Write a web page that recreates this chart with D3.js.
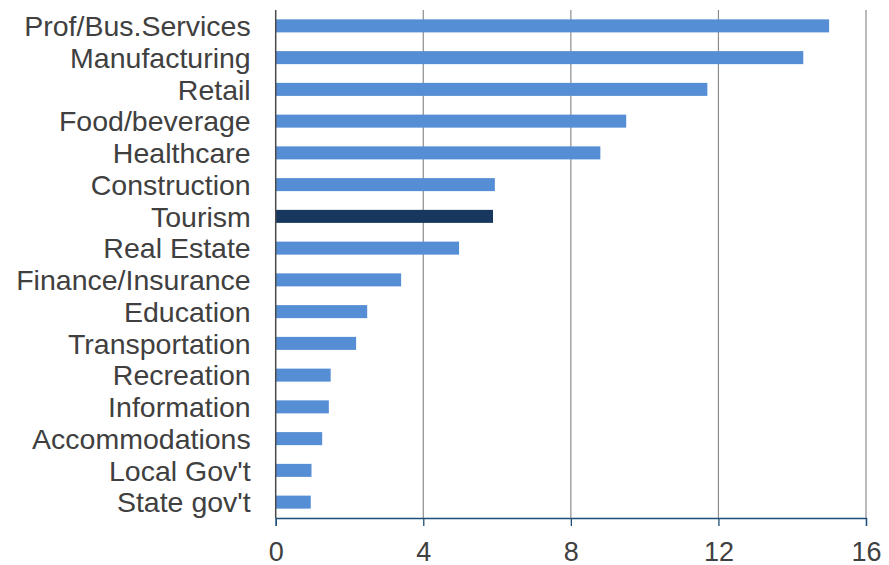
<!DOCTYPE html>
<html>
<head>
<meta charset="utf-8">
<script src="https://cdn.jsdelivr.net/npm/d3@7"></script>
<style>
  html, body { margin: 0; padding: 0; background: #fff; }
  svg { display: block; }
</style>
</head>
<body>
<svg id="chart" width="889" height="565"></svg>
<script>
// Industry categories, top to bottom
const categories = [
  "Prof/Bus.Services", "Manufacturing", "Retail", "Food/beverage", "Healthcare",
  "Construction", "Tourism", "Real Estate", "Finance/Insurance", "Education",
  "Transportation", "Recreation", "Information", "Accommodations",
  "Local Gov't", "State gov't"
];
// Value per category
const values = [
  15.0, 14.3, 11.7, 9.5, 8.8,
  5.94, 5.89, 4.97, 3.4, 2.48,
  2.18, 1.49, 1.44, 1.26,
  0.97, 0.95
];
// Category shown with the highlight colour
const highlighted = ["Tourism"];
// x-axis ticks
const xTicks = [0, 4, 8, 12, 16];

const data = categories.map((c, i) => ({ name: c, value: values[i] }));

const svg = d3.select("#chart");
const margin = { top: 10, right: 23, bottom: 47, left: 275.7 };
const width = 889 - margin.left - margin.right;
const height = 565 - margin.top - margin.bottom;

const g = svg.append("g").attr("transform", `translate(${margin.left},${margin.top})`);

const x = d3.scaleLinear().domain([0, 16]).range([0, width]);
const y = d3.scaleBand().domain(categories).range([0, height]).paddingInner(0.59).paddingOuter(0.295);

// Vertical gridlines
g.append("g")
  .selectAll("line")
  .data(xTicks.filter(t => t > 0))
  .join("line")
  .attr("x1", d => x(d)).attr("x2", d => x(d))
  .attr("y1", 0).attr("y2", height)
  .attr("stroke", "#8c8c8c")
  .attr("stroke-width", 1.2);

// Bars
g.append("g")
  .selectAll("rect")
  .data(data)
  .join("rect")
  .attr("x", x(0))
  .attr("y", d => y(d.name))
  .attr("width", d => x(d.value) - x(0))
  .attr("height", y.bandwidth())
  .attr("fill", d => highlighted.includes(d.name) ? "#17375e" : "#558ed5");

// Left axis line
g.append("line")
  .attr("x1", 0).attr("x2", 0)
  .attr("y1", 0).attr("y2", height)
  .attr("stroke", "#4a4a4a")
  .attr("stroke-width", 1.5);

// Category labels
g.append("g")
  .selectAll("text")
  .data(categories)
  .join("text")
  .attr("x", -25)
  .attr("y", d => y(d) + y.bandwidth() / 2)
  .attr("dy", "0.36em")
  .attr("text-anchor", "end")
  .attr("font-family", "Liberation Sans, Arial, sans-serif")
  .attr("font-size", 28.5)
  .attr("fill", "#404040")
  .text(d => d);

// Bottom axis
const xAxis = d3.axisBottom(x)
  .tickValues(xTicks)
  .tickSize(8)
  .tickPadding(16)
  .tickFormat(d3.format("d"));

const ax = g.append("g")
  .attr("transform", `translate(0,${height})`)
  .call(xAxis);
ax.select(".domain").attr("stroke", "#1f4e79").attr("stroke-width", 1.3);
ax.selectAll(".tick line").attr("stroke", "#1f4e79").attr("stroke-width", 1.3);
ax.selectAll(".tick text")
  .attr("font-family", "Liberation Sans, Arial, sans-serif")
  .attr("font-size", 27)
  .attr("fill", "#404040");
</script>
</body>
</html>
